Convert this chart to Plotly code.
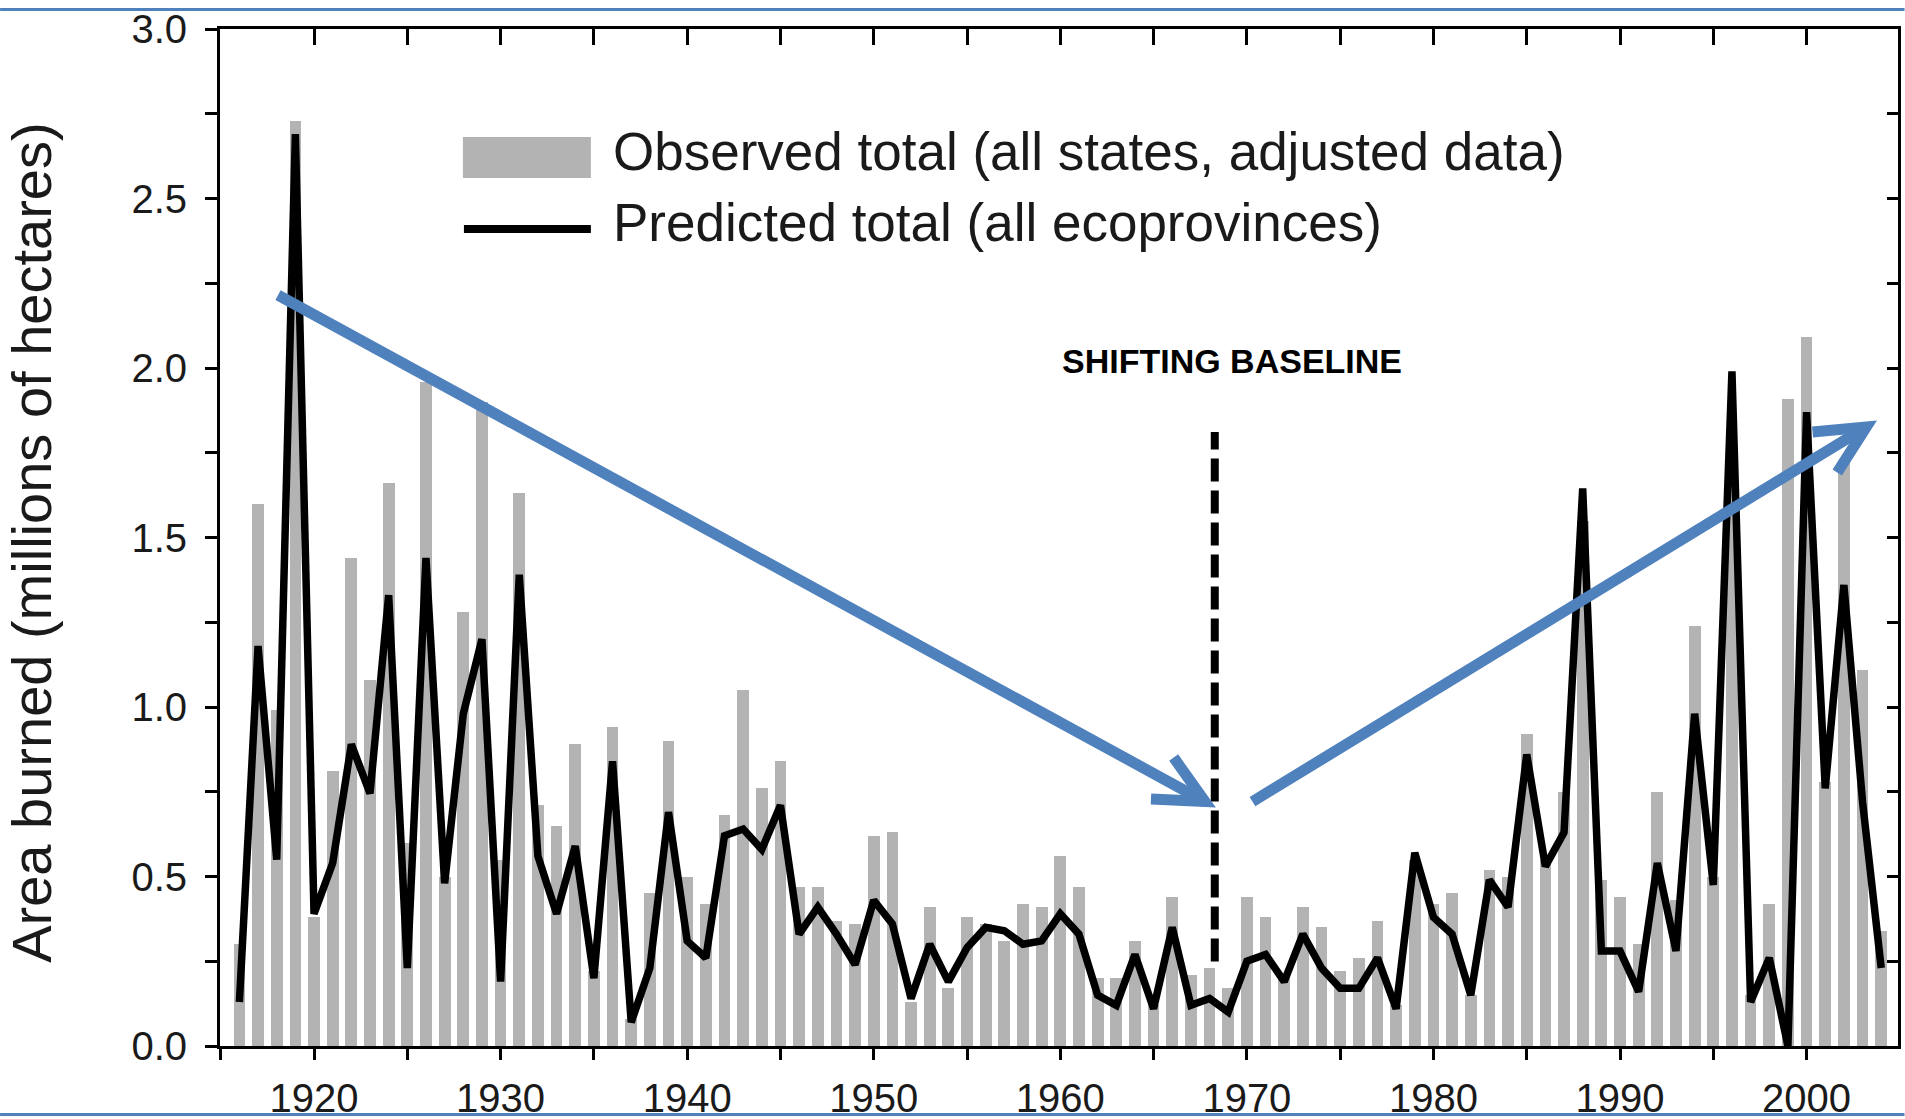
import math
import plotly.graph_objects as go

# ---------------- data ----------------
years = list(range(1916, 2005))

observed_total = [
    0.30, 1.60, 0.99, 2.73, 0.38, 0.81, 1.44, 1.08, 1.66, 0.60,   # 1916-1925
    1.96, 0.50, 1.28, 1.90, 0.55, 1.63, 0.71, 0.65, 0.89, 0.22,   # 1926-1935
    0.94, 0.08, 0.45, 0.90, 0.50, 0.42, 0.68, 1.05, 0.76, 0.84,   # 1936-1945
    0.47, 0.47, 0.37, 0.36, 0.62, 0.63, 0.13, 0.41, 0.17, 0.38,   # 1946-1955
    0.36, 0.31, 0.42, 0.41, 0.56, 0.47, 0.20, 0.20, 0.31, 0.12,   # 1956-1965
    0.44, 0.21, 0.23, 0.17, 0.44, 0.38, 0.20, 0.41, 0.35, 0.22,   # 1966-1975
    0.26, 0.37, 0.12, 0.55, 0.42, 0.45, 0.15, 0.52, 0.50, 0.92,   # 1976-1985
    0.55, 0.75, 1.55, 0.49, 0.44, 0.30, 0.75, 0.43, 1.24, 0.50,   # 1986-1995
    1.70, 0.15, 0.42, 1.91, 2.09, 0.78, 1.72, 1.11, 0.34,         # 1996-2004
]

predicted_total = [
    0.13, 1.18, 0.55, 2.69, 0.39, 0.54, 0.89, 0.745, 1.33, 0.23,  # 1916-1925
    1.44, 0.48, 0.98, 1.20, 0.19, 1.39, 0.56, 0.39, 0.59, 0.20,   # 1926-1935
    0.84, 0.07, 0.23, 0.69, 0.31, 0.26, 0.62, 0.64, 0.58, 0.71,   # 1936-1945
    0.33, 0.41, 0.33, 0.24, 0.43, 0.36, 0.14, 0.30, 0.19, 0.29,   # 1946-1955
    0.35, 0.34, 0.30, 0.31, 0.39, 0.33, 0.15, 0.12, 0.27, 0.11,   # 1956-1965
    0.35, 0.12, 0.14, 0.10, 0.25, 0.27, 0.19, 0.33, 0.23, 0.17,   # 1966-1975
    0.17, 0.26, 0.11, 0.57, 0.38, 0.33, 0.15, 0.49, 0.41, 0.86,   # 1976-1985
    0.53, 0.63, 1.645, 0.28, 0.28, 0.16, 0.54, 0.28, 0.98, 0.475, # 1986-1995
    1.99, 0.13, 0.26, 0.00, 1.87, 0.76, 1.36, 0.72, 0.23,         # 1996-2004
]

x_tick_values = list(range(1915, 2005, 5))
x_tick_labels = [str(v) if v % 10 == 0 else "" for v in x_tick_values]
y_tick_values = [i * 0.25 for i in range(13)]
y_tick_labels = [f"{v:.1f}" if (v * 2) == int(v * 2) else "" for v in y_tick_values]

legend_labels = ["Observed total (all states, adjusted data)",
                 "Predicted total (all ecoprovinces)"]
y_title = "Area burned (millions of hectares)"
note_text = "SHIFTING BASELINE"

# ---------------- layout constants ----------------
W, H = 1905, 1119
M_L, M_R, M_T, M_B = 220, 6.5, 29, 72.5
X_RANGE = [1914.96, 2004.9]
Y_RANGE = [0, 3.0]
PLOT_W = W - M_L - M_R
PLOT_H = H - M_T - M_B
SX = PLOT_W / (X_RANGE[1] - X_RANGE[0])   # px per year
SY = PLOT_H / (Y_RANGE[1] - Y_RANGE[0])   # px per unit

BAR_GRAY = "#b3b3b3"
ARROW_BLUE = "#4f81bd"
FONT = "Liberation Sans, Arial, Helvetica, sans-serif"

fig = go.Figure()

fig.add_trace(go.Bar(
    x=years, y=observed_total, width=0.63,
    marker=dict(color=BAR_GRAY, line=dict(width=0)),
    name=legend_labels[0], showlegend=False,
))
fig.add_trace(go.Scatter(
    x=years, y=predicted_total, mode="lines",
    line=dict(color="black", width=7.5),
    name=legend_labels[1], showlegend=False,
))
# invisible trace so the mirrored (inside-tick) axes are drawn
fig.add_trace(go.Scatter(
    x=[years[0]], y=[0], xaxis="x2", yaxis="y2", mode="markers",
    marker=dict(opacity=0), hoverinfo="skip", showlegend=False,
))

tickfont = dict(family=FONT, size=40, color="#1a1a1a")

fig.update_layout(
    width=W, height=H, autosize=False,
    margin=dict(l=M_L, r=M_R, t=M_T, b=M_B, pad=0),
    paper_bgcolor="white", plot_bgcolor="white",
    bargap=0,
    xaxis=dict(range=X_RANGE, tickmode="array", tickvals=x_tick_values,
               ticktext=x_tick_labels, ticks="outside", ticklen=11,
               tickwidth=3, tickcolor="black", showline=True,
               linecolor="black", linewidth=3, showgrid=False,
               zeroline=False, tickfont=tickfont, ticklabelstandoff=4,
               automargin=False),
    yaxis=dict(range=Y_RANGE, tickmode="array", tickvals=y_tick_values,
               ticktext=y_tick_labels, ticks="outside", ticklen=12,
               tickwidth=3, tickcolor="black", showline=True,
               linecolor="black", linewidth=3, showgrid=False,
               zeroline=False, tickfont=tickfont, ticklabelstandoff=10,
               automargin=False),
    xaxis2=dict(range=X_RANGE, overlaying="x", side="top", anchor="y2",
                tickmode="array", tickvals=x_tick_values, ticks="inside",
                ticklen=16, tickwidth=3, tickcolor="black",
                showticklabels=False, showline=True, linecolor="black",
                linewidth=3, showgrid=False, zeroline=False,
                automargin=False),
    yaxis2=dict(range=Y_RANGE, overlaying="y", side="right", anchor="x2",
                tickmode="array", tickvals=y_tick_values, ticks="inside",
                ticklen=11, tickwidth=3, tickcolor="black",
                showticklabels=False, showline=True, linecolor="black",
                linewidth=3, showgrid=False, zeroline=False,
                automargin=False),
)

# ---------------- helpers for decorations ----------------
def px_to_paper_x(px):
    return (px - M_L) / PLOT_W

def px_to_paper_y(py):
    return (H - M_B - py) / PLOT_H

def arrow_path(x0, y0, x1, y1, arm_px=54, angle_deg=26):
    dx, dy = (x1 - x0) * SX, (y1 - y0) * SY
    n = math.hypot(dx, dy)
    rx, ry = -dx / n, -dy / n
    pts = []
    for s in (1, -1):
        a = math.radians(angle_deg * s)
        ax = rx * math.cos(a) - ry * math.sin(a)
        ay = rx * math.sin(a) + ry * math.cos(a)
        pts.append((x1 + ax * arm_px / SX, y1 + ay * arm_px / SY))
    shaft = f"M {x0},{y0} L {x1},{y1}"
    head = f"M {pts[0][0]},{pts[0][1]} L {x1},{y1} L {pts[1][0]},{pts[1][1]}"
    return shaft, head

shapes = []
# blue slide rules
for py in (9.5, 1115):
    shapes.append(dict(type="line", xref="paper", yref="paper",
                       x0=px_to_paper_x(0), x1=px_to_paper_x(W),
                       y0=px_to_paper_y(py), y1=px_to_paper_y(py),
                       line=dict(color=ARROW_BLUE, width=3), layer="above"))

# legend swatches
shapes.append(dict(type="rect", xref="paper", yref="paper",
                   x0=px_to_paper_x(463), x1=px_to_paper_x(591),
                   y0=px_to_paper_y(178), y1=px_to_paper_y(137),
                   fillcolor=BAR_GRAY, line=dict(width=0)))
shapes.append(dict(type="line", xref="paper", yref="paper",
                   x0=px_to_paper_x(464), x1=px_to_paper_x(591),
                   y0=px_to_paper_y(229), y1=px_to_paper_y(229),
                   line=dict(color="black", width=8)))

# dashed baseline marker
shapes.append(dict(type="line", xref="x", yref="y",
                   x0=1968.28, x1=1968.28, y0=0.249, y1=1.811,
                   line=dict(color="black", width=8, dash="23px,9px"),
                   layer="above"))

# blue arrows
for (ax0, ay0, ax1, ay1) in [(1918.07, 2.215, 1967.75, 0.721),
                             (1970.30, 0.721, 2003.20, 1.826)]:
    shaft, head = arrow_path(ax0, ay0, ax1, ay1)
    for p in (shaft, head):
        shapes.append(dict(type="path", xref="x", yref="y", path=p,
                           line=dict(color=ARROW_BLUE, width=11),
                           layer="above"))

fig.update_layout(shapes=shapes)

annotations = [
    dict(text=y_title, xref="paper", yref="paper",
         x=px_to_paper_x(32), y=px_to_paper_y(543), textangle=-90,
         showarrow=False, xanchor="center", yanchor="middle",
         font=dict(family=FONT, size=56, color="#1a1a1a")),
    dict(text=legend_labels[0], xref="paper", yref="paper",
         x=px_to_paper_x(611), y=px_to_paper_y(152),
         showarrow=False, xanchor="left", yanchor="middle",
         font=dict(family=FONT, size=53, color="#1a1a1a")),
    dict(text=legend_labels[1], xref="paper", yref="paper",
         x=px_to_paper_x(611), y=px_to_paper_y(223),
         showarrow=False, xanchor="left", yanchor="middle",
         font=dict(family=FONT, size=53, color="#1a1a1a")),
    dict(text=f"<b>{note_text}</b>", xref="x", yref="y",
         x=1969.2, y=2.02, showarrow=False,
         xanchor="center", yanchor="middle",
         font=dict(family=FONT, size=34, color="black")),
]
fig.update_layout(annotations=annotations)

fig.write_html("out.html", include_plotlyjs=True)
